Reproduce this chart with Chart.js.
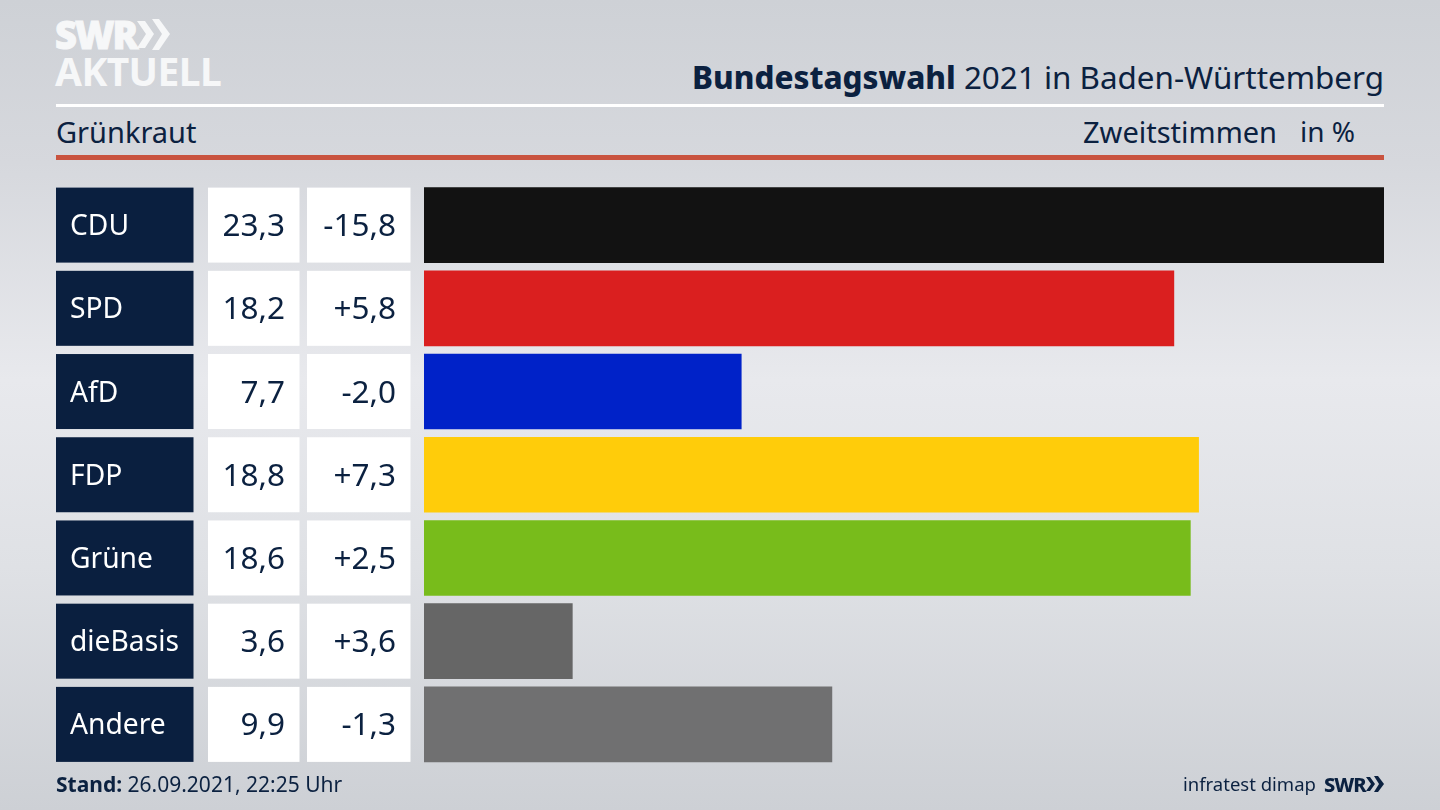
<!DOCTYPE html>
<html lang="de"><head><meta charset="utf-8"><title>Bundestagswahl 2021 in Baden-Württemberg</title>
<script src="https://cdn.jsdelivr.net/npm/chart.js@4"></script>
<style>
html,body{margin:0;padding:0;width:1440px;height:810px;overflow:hidden}
body{position:relative;font-family:"Noto Sans",sans-serif;color:#0b2140;
background:linear-gradient(180deg,#ced1d6 0%,#d6d8dd 20%,#e8e9ed 47%,#dfe1e5 70%,#cdd0d5 100%)}
canvas{position:absolute;left:0;top:0}
.t{position:absolute;white-space:nowrap;line-height:1}
.rule{position:absolute;left:56px;width:1328px}
</style></head><body>
<div class="t" style="left:55px;top:15px;font:900 38px/1 'Noto Sans',sans-serif;color:#f6f7f8;letter-spacing:-2px;-webkit-text-stroke:1px #f6f7f8">SWR</div>
<svg style="position:absolute;left:137px;top:19px" width="34" height="34" viewBox="0 0 34 34"><path fill="#f6f7f8" d="M0 2h8l9 13-9 14H0l9-14zM15 0h7l11 15-11 16h-7l10-16z"/></svg>
<div class="t" style="left:55px;top:51px;font:700 39px/1 'Noto Sans',sans-serif;color:#f6f7f8;letter-spacing:-.6px">AKTUELL</div>
<div class="t" id="title" style="right:56px;top:61px;font-size:31.4px"><b style="font-weight:800">Bundestagswahl</b> 2021 in Baden-Württemberg</div>
<div class="rule" style="top:104px;height:3px;background:#fff"></div>
<div class="t" style="left:56px;top:117px;font-size:29px">Grünkraut</div>
<div class="t" style="left:1083px;top:117px;font-size:29px">Zweitstimmen</div>
<div class="t" style="left:1300px;top:117px;font-size:28px">in %</div>
<div class="rule" style="top:155px;height:5px;background:#c9533f"></div>
<canvas id="c" width="1440" height="810"></canvas>
<div class="t" style="left:56px;top:774px;font-size:21px"><b>Stand:</b> 26.09.2021, 22:25 Uhr</div>
<div class="t" style="left:1183px;top:775px;font-size:18.5px">infratest dimap</div>
<div class="t" style="left:1324px;top:775px;font:800 20px/1 'Noto Sans',sans-serif;letter-spacing:-1px">SWR</div>
<svg style="position:absolute;left:1366px;top:776px" width="18" height="16" viewBox="0 0 18 16"><path fill="#0b2140" d="M0 1h4l5 7-5 7H0l5-7zM8 0h4l6 8-6 8H8l5-8z"/></svg>
<script>
const parties = ["CDU","SPD","AfD","FDP","Grüne","dieBasis","Andere"];
const shares = [23.3,18.2,7.7,18.8,18.6,3.6,9.9];
const changes = [-15.8,5.8,-2.0,7.3,2.5,3.6,-1.3];
const barColors = ["#121212","#da1f1f","#0022c8","#ffcc0a","#78bc1b","#666666","#707071"];
const fmt = v => v.toFixed(1).replace(".",",");
const fmtChange = v => (v>0?"+":"")+fmt(v);
const BAR_H = 75;
const tablePlugin = {
  id:"table",
  beforeDraw(chart){
    const {ctx,scales:{y}} = chart;
    ctx.save();
    parties.forEach((p,i)=>{
      const cy = y.getPixelForValue(i), top = cy-BAR_H/2;
      ctx.fillStyle="#0a1f3f"; ctx.fillRect(56,top,137.5,BAR_H);
      ctx.fillStyle="#ffffff"; ctx.fillRect(208,top,91.5,BAR_H); ctx.fillRect(307,top,103.5,BAR_H);
    });
    ctx.restore();
  },
  afterDatasetsDraw(chart){
    const {ctx,scales:{y}} = chart;
    ctx.save();
    ctx.fillStyle="#0b2140"; ctx.font='31.5px "Noto Sans"'; ctx.textAlign="right"; ctx.textBaseline="middle";
    parties.forEach((p,i)=>{
      const cy = y.getPixelForValue(i)+2;
      ctx.fillText(fmt(shares[i]),285,cy);
      ctx.fillText(fmtChange(changes[i]),396,cy);
    });
    ctx.restore();
  }
};
new Chart(document.getElementById("c"),{
  type:"bar",
  data:{labels:parties,datasets:[{data:shares,backgroundColor:barColors,barThickness:BAR_H,borderWidth:0}]},
  plugins:[tablePlugin],
  options:{
    indexAxis:"y",responsive:false,animation:false,devicePixelRatio:1,
    layout:{padding:{left:70,right:56,top:183.5,bottom:44}},
    plugins:{legend:{display:false},title:{display:false},tooltip:{enabled:false}},
    scales:{
      x:{display:false,min:0,max:23.3},
      y:{
        grid:{display:false,drawTicks:false},border:{display:false},
        afterFit(s){s.width=354;},
        ticks:{crossAlign:"far",color:"#ffffff",font:{family:"Noto Sans",size:28.2},padding:0,autoSkip:false,z:1,labelOffset:2}
      }
    }
  }
});
</script>
</body></html>
